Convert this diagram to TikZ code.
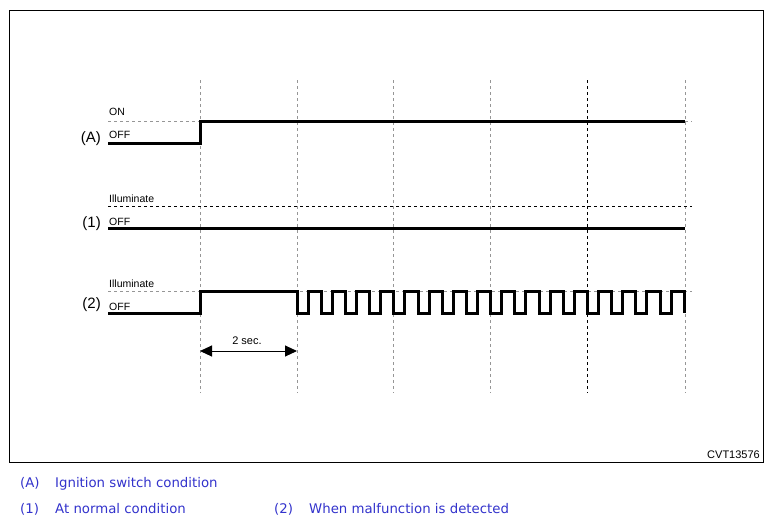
\documentclass[tikz,border=0pt]{standalone}
\usepackage{fontspec}
\setmainfont{Liberation Sans}
\newfontfamily\legendfont{DejaVu Sans}
\usetikzlibrary{arrows.meta}
\definecolor{legblue}{RGB}{51,51,204}
\definecolor{guide}{RGB}{150,150,150}
\tikzset{
  sig/.style={line width=3pt, line join=miter, line cap=butt},
  guideline/.style={guide, line width=1pt, dash pattern=on 3pt off 3pt},
  darkguide/.style={black, line width=1pt, dash pattern=on 3pt off 3pt},
  lvl/.style={anchor=base west, inner sep=0pt, font=\fontsize{10.5}{11}\selectfont},
  chan/.style={anchor=base east, inner sep=0pt, font=\fontsize{15}{16}\selectfont},
  leg/.style={anchor=base west, inner sep=0pt, text=legblue, font=\legendfont\fontsize{13.3}{15}\selectfont},
}
\begin{document}
\begin{tikzpicture}[x=1pt,y=-1pt]
\useasboundingbox (0,0) rectangle (773,525);
\fill[white] (0,0) rectangle (773,525);
% frame
\draw[line width=1pt] (9.5,10.5) rectangle (763.5,462.5);
\node[anchor=base east, inner sep=0pt, font=\fontsize{11}{12}\selectfont] (code) at (760,458) {CVT13576};
% vertical time guides
\foreach \x in {200,297,393,490,685} {
  \draw[guideline] (\x,80) -- (\x,393);
}
\draw[darkguide] (587,80) -- (587,393);
% (A) ignition
\draw[guideline] (108,121) -- (200,121);
\draw[guideline] (685,121) -- (692,121);
\draw[sig] (108,143) -- (200,143) -- (200,121) -- (685,121);
\node[lvl] (aon) at (109,115) {ON};
\node[lvl] (aoff) at (109,138) {OFF};
\node[chan] (achan) at (101,142) {(A)};
% (1) normal
\draw[darkguide] (108,206) -- (692,206);
\draw[sig] (108,228) -- (685,228);
\node[lvl] (nill) at (109,202) {Illuminate};
\node[lvl] (noff) at (109,225) {OFF};
\node[chan] (nchan) at (101,227) {(1)};
% (2) malfunction
\draw[guideline] (108,291) -- (692,291);
\draw[sig] (108,313) -- (200,313) -- (200,291) -- (297,291)
  \foreach \k in {1,...,16} { -- ++(0,22) -- ++(11,0) -- ++(0,-22) -- ++(13.2,0) }
  -- ++(0,22);
\node[lvl] (mill) at (109,287) {Illuminate};
\node[lvl] (moff) at (109,310) {OFF};
\node[chan] (mchan) at (101,308) {(2)};
% 2 sec arrow
\coordinate (t1) at (200,351);
\coordinate (t2) at (297,351);
\draw[line width=1pt, {Triangle[length=12pt,width=11pt]}-{Triangle[length=12pt,width=11pt]}] (t1) -- (t2);
\node[anchor=base, inner sep=0pt, font=\fontsize{11}{12}\selectfont] (dur) at (247,344) {2 sec.};
% legend
\node[leg] (lA) at (20,487) {(A)};
\node[leg] (lAt) at (55,487) {Ignition switch condition};
\node[leg] (l1) at (20,513) {(1)};
\node[leg] (l1t) at (55,513) {At normal condition};
\node[leg] (l2) at (274,513) {(2)};
\node[leg] (l2t) at (309,513) {When malfunction is detected};
\end{tikzpicture}
\end{document}
